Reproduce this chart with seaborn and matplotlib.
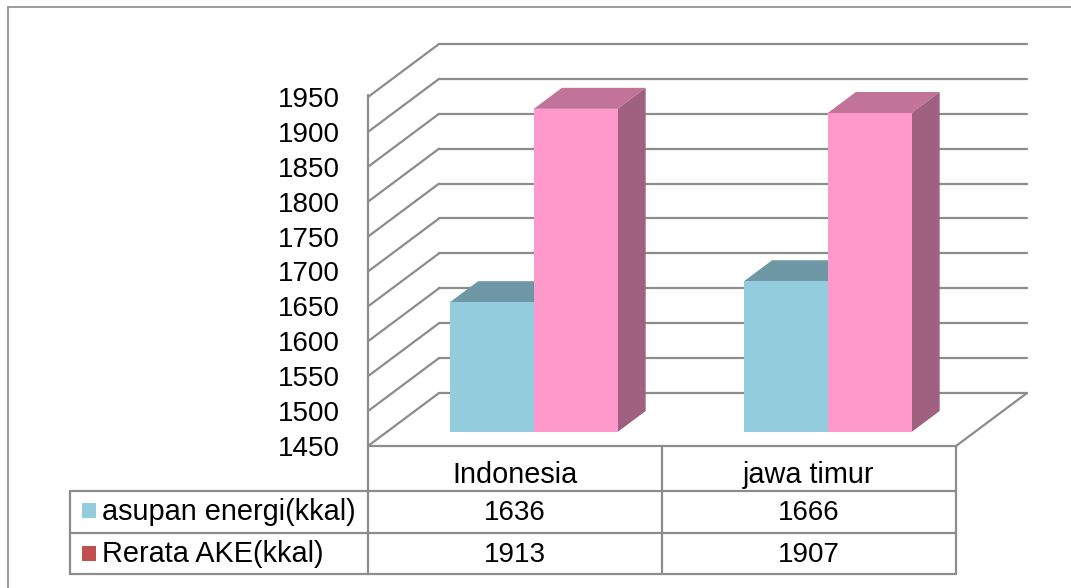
import numpy as np
import pandas as pd
import matplotlib
matplotlib.use("Agg")
import matplotlib.pyplot as plt
import matplotlib.transforms as mtransforms
from matplotlib.patches import Polygon, Rectangle
from matplotlib.lines import Line2D
import seaborn as sns

# ---------------- data ----------------
categories = ["Indonesia", "jawa timur"]
series_names = ["asupan energi(kkal)", "Rerata AKE(kkal)"]
asupan = [1636, 1666]
rerata = [1913, 1907]
y_ticks = [1450, 1500, 1550, 1600, 1650, 1700, 1750, 1800, 1850, 1900, 1950]

# ---------------- style ----------------
front_colors = ["#93CDDD", "#FF99CC"]
top_colors = ["#6E98A6", "#C27399"]
side_colors = ["#6A909C", "#A0607F"]
legend_colors = ["#93CDDD", "#C0504D"]
grid_color = "#8C8C8C"
FS = 20
FS_WORD = 20.8

sns.set_style("white")
plt.rcParams["font.family"] = ["Liberation Sans", "DejaVu Sans"]

W, H = 1071, 588
fig = plt.figure(figsize=(W / 100, H / 100), dpi=100)
L, R, T, B = 368, 956, 97, 446
ax = fig.add_axes([L / W, 1 - B / H, (R - L) / W, (B - T) / H])
ax.set_facecolor("none")

df = pd.DataFrame({
    "region": categories * 2,
    "series": [series_names[0]] * 2 + [series_names[1]] * 2,
    "value": asupan + rerata,
})
sns.barplot(data=df, x="region", y="value", hue="series", order=categories,
            hue_order=series_names, palette=front_colors, width=0.57,
            saturation=1, errorbar=None, legend=False, linewidth=0, ax=ax)

ymin, ymax = y_ticks[0], y_ticks[-1]
ax.set_xlim(-0.5, len(categories) - 0.5)
ax.set_ylim(ymin, ymax)
ax.set_yticks(y_ticks)
ax.set_yticklabels([str(v) for v in y_ticks])
ax.set_xticks([])
ax.set_xlabel("")
ax.set_ylabel("")
ax.tick_params(axis="y", length=0, pad=20, labelsize=FS, labelcolor="black")
for s in ax.spines.values():
    s.set_visible(False)

# 3D depth offsets in data units (derived from axes pixel size)
px_x = (R - L) / (ax.get_xlim()[1] - ax.get_xlim()[0])
px_y = (B - T) / (ymax - ymin)
DX = 71 / px_x
DY = 53 / px_y
f1, f2 = 14 / 53, 35 / 53
dDX, dDY = (f2 - f1) * DX, (f2 - f1) * DY

x0a, x1a = ax.get_xlim()
gl = dict(color=grid_color, lw=1.6, clip_on=False, zorder=1, solid_capstyle="round")
for v in y_ticks:
    ax.plot([x0a + DX, x1a + DX], [v + DY, v + DY], **gl)
    ax.plot([x0a, x0a + DX], [v, v + DY], **gl)
ax.plot([x1a, x1a + DX], [ymin, ymin + DY], **gl)
ax.plot([x0a, x1a], [ymin, ymin], **gl)

# turn seaborn bars into 3D-looking boxes
for i, cont in enumerate(ax.containers):
    for p in cont:
        val = p.get_y() + p.get_height()
        x0 = p.get_x() + f1 * DX
        w = p.get_width()
        y0 = ymin + f1 * DY
        top = val + f1 * DY
        p.set_x(x0)
        p.set_y(y0)
        p.set_height(top - y0)
        p.set_clip_on(False)
        p.set_zorder(4)
        ax.add_patch(Polygon([(x0, top), (x0 + w, top), (x0 + w + dDX, top + dDY),
                              (x0 + dDX, top + dDY)], closed=True,
                             facecolor=top_colors[i], edgecolor="none",
                             clip_on=False, zorder=3))
        ax.add_patch(Polygon([(x0 + w, y0), (x0 + w, top), (x0 + w + dDX, top + dDY),
                              (x0 + w + dDX, y0 + dDY)], closed=True,
                             facecolor=side_colors[i], edgecolor="none",
                             clip_on=False, zorder=3))

# ---------------- data table ----------------
def fx(x):
    return x / W

def fy(y):
    return 1 - y / H

def fline(xs, ys, color=grid_color, lw=1.6):
    fig.add_artist(Line2D([fx(x) for x in xs], [fy(y) for y in ys],
                          transform=fig.transFigure, color=color, lw=lw))

row_y = [446, 491, 533, 574]
fline([L, L], [T - 2, row_y[-1]])
fline([R, R], [row_y[0], row_y[-1]])
fline([70, 70], [row_y[1], row_y[-1]])
for ry in row_y[1:]:
    fline([70, R], [ry, ry])
blend = mtransforms.blended_transform_factory(ax.transData, fig.transFigure)
for k in range(1, len(categories)):
    xs = k - 0.5
    ax.plot([xs, xs], [fy(row_y[0]), fy(row_y[-1])], transform=blend,
            color=grid_color, lw=1.6, clip_on=False)

# outer chart frame
fline([8, W + 5], [7, 7], lw=1.2)
fline([8, 8], [7, H + 5], lw=1.2)

header_base = 483
row_bases = [519.5, 562.5]
for j, cat in enumerate(categories):
    ax.text(j, fy(header_base), cat, transform=blend,
            ha="center", va="baseline", fontsize=FS_WORD, color="black")
for i, vals in enumerate([asupan, rerata]):
    yb = row_bases[i]
    for j, v in enumerate(vals):
        ax.text(j, fy(yb), str(v), transform=blend, ha="center", va="baseline",
                fontsize=FS, color="black")
    fig.add_artist(Rectangle((fx(82), fy(yb - 2)), 14 / W, 15 / H,
                             transform=fig.transFigure, facecolor=legend_colors[i],
                             edgecolor="none"))
    fig.text(fx(102), fy(yb), series_names[i], ha="left", va="baseline",
             fontsize=FS_WORD, color="black")

fig.savefig("out.png", dpi=100)
